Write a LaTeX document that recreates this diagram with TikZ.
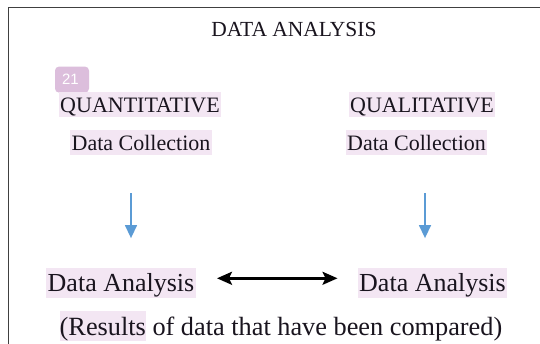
\documentclass[tikz,border=0pt]{standalone}
\usepackage{fontspec}
\setmainfont{Liberation Serif}
\newfontfamily\badgefont{Liberation Sans}
\usetikzlibrary{arrows.meta}
\definecolor{hl}{RGB}{243,230,243}
\definecolor{badgecol}{RGB}{220,190,220}
\definecolor{arrowblue}{RGB}{91,155,213}
\definecolor{inkcol}{RGB}{25,20,30}
\newcommand\hlr[1]{{\setlength\fboxsep{0pt}\colorbox{hl}{\rule[-5pt]{0pt}{29.3pt}#1}}}
\tikzset{
  hlnode/.style={fill=hl, inner xsep=1.5pt, inner ysep=0pt, anchor=base, text=inkcol},
  smalltxt/.style={font=\fontsize{22}{26}\selectfont, text height=21pt, text depth=4pt},
  bigtxt/.style={font=\fontsize{26}{30}\selectfont, text height=23.4pt, text depth=6.6pt},
  framestyle/.style={draw=black!75, line width=1.3pt},
  bluearrow/.style={draw=arrowblue, line width=1.4pt, -{Triangle[length=13pt,width=12pt]}},
  dblarrow/.style={draw=black, line width=2.5pt, {Stealth[length=15pt,width=13pt,inset=3pt]}-{Stealth[length=15pt,width=13pt,inset=3pt]}},
  badge/.style={fill=badgecol, rounded corners=4pt, minimum width=34pt, minimum height=26pt, inner sep=0pt, text=white, font=\badgefont\fontsize{15}{18}\selectfont}
}
\begin{document}
\begin{tikzpicture}[x=1pt,y=-1pt]
\useasboundingbox (0,0) rectangle (540,344);
\fill[white] (0,0) rectangle (540,344);
% frame
\coordinate (ftr) at (541,7.3);
\coordinate (ftl) at (8.3,7.3);
\coordinate (fbl) at (8.3,345);
\draw[framestyle] (ftr) -- (ftl) -- (fbl);
% title
\node[font=\fontsize{21.5}{26}\selectfont, anchor=base, inner sep=0pt, text=inkcol] (title) at (294,36.7) {DATA ANALYSIS};
% badge
\node[badge] (badge) at (72,79.6) {\hspace*{-3pt}21};
% left column
\node[hlnode, smalltxt] (quant) at (140,113) {QUANTITATIVE};
\node[hlnode, smalltxt] (dcL) at (141,151) {Data Collection};
\node[hlnode, bigtxt] (daL) at (121,291.7) {Data Analysis};
% right column
\node[hlnode, smalltxt] (qual) at (422,113) {QUALITATIVE};
\node[hlnode, smalltxt] (dcR) at (416.5,151) {Data Collection};
\node[hlnode, bigtxt] (daR) at (432.5,291.7) {Data Analysis};
% bottom line
\node[anchor=base, inner sep=0pt, text=inkcol, font=\fontsize{26.3}{30}\selectfont] (res) at (281,335) {\hlr{(Results} of data that have been compared)};
% arrows
\draw[bluearrow] ([xshift=-10pt,yshift=-38pt]dcL.south) -- ([xshift=10pt,yshift=30pt]daL.north);
\draw[bluearrow] ([xshift=8.5pt,yshift=-38pt]dcR.south) -- ([xshift=-7.5pt,yshift=30pt]daR.north);
\draw[dblarrow] ([xshift=21pt,yshift=5pt]daL.east) -- ([xshift=-20pt,yshift=5pt]daR.west);
\end{tikzpicture}
\end{document}
